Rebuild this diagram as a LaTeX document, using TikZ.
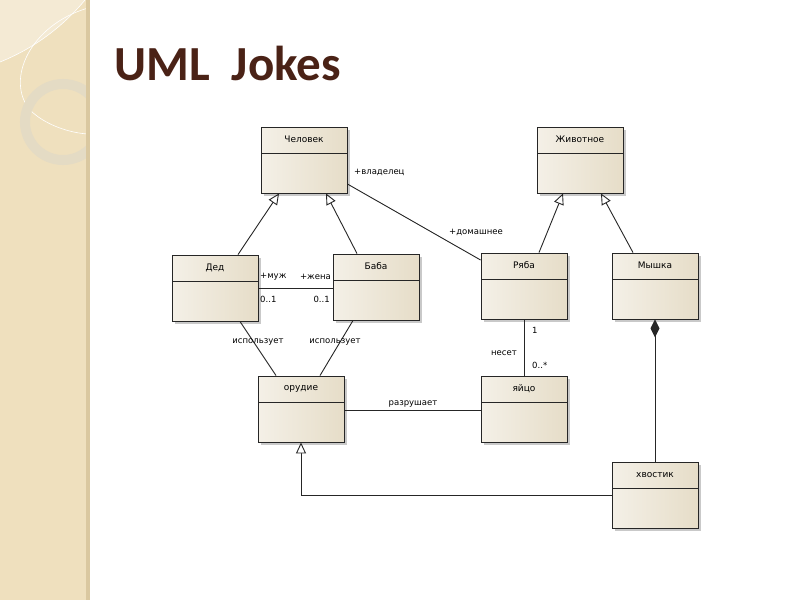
\documentclass[tikz,border=0pt]{standalone}
\usepackage{fontspec}
\setmainfont{DejaVu Sans}
\newfontfamily\titlefont{Carlito}
\usetikzlibrary{arrows.meta,shadows}
\definecolor{strip}{RGB}{239,224,190}
\definecolor{stripedge}{RGB}{218,200,160}
\definecolor{ringcol}{RGB}{228,219,196}
\definecolor{leafcol}{RGB}{244,234,212}
\definecolor{titlecol}{RGB}{74,34,22}
\definecolor{boxl}{RGB}{244,240,231}
\definecolor{boxr}{RGB}{230,221,200}
\begin{document}
\begin{tikzpicture}[x=1pt,y=-1pt,
  umlclass/.style={draw=black!85, line width=0.9pt, minimum width=86pt, minimum height=66pt,
    inner sep=0pt, left color=boxl, right color=boxr,
    drop shadow={shadow xshift=2.5pt, shadow yshift=-2.5pt, opacity=0.35, fill=black!60},
    path picture={\draw[line width=0.9pt, black!85] ([yshift=-26pt]path picture bounding box.north west) -- ([yshift=-26pt]path picture bounding box.north east);},
    label={[anchor=center, yshift=-13pt, font=\fontsize{9}{11}\selectfont]north:#1}},
  conn/.style={line width=0.9pt, black!85},
  gen/.style={conn, -{Triangle[open, length=11pt, width=10pt, fill=white]}},
  comp/.style={conn, {Diamond[length=18pt, width=9pt]}-},
  lbl/.style={font=\fontsize{8.5}{10}\selectfont, inner sep=0pt}
]
\useasboundingbox (0,0) rectangle (800,600);
% background and left strip
\fill[white] (0,0) rectangle (800,600);
\begin{scope}
\clip (0,0) rectangle (87,600);
\fill[strip] (0,0) rectangle (87,600);
\fill[leafcol] (0,62) .. controls (30,50) and (60,30) .. (85,0) -- (0,0) -- cycle;
\draw[white, line width=0.6pt] (0,62) .. controls (30,50) and (60,30) .. (85,0);
\draw[white, line width=0.6pt] (88,8) .. controls (30,25) and (5,80) .. (30,110) .. controls (45,125) and (70,133) .. (88,134);
\draw[ringcol, line width=10pt] (63,122) circle[radius=38];
\end{scope}
\fill[stripedge] (86,0) rectangle (90,600);
% title
\node[anchor=base west, inner sep=0pt, text=titlecol, font=\titlefont\bfseries\fontsize{49}{53}\selectfont] (title) at (114,80) {UML\ \ Jokes};
% classes
\node[umlclass=Человек] (chel) at (304,160) {};
\node[umlclass=Животное] (zhiv) at (580,160) {};
\node[umlclass=Дед] (ded) at (215,288) {};
\node[umlclass=Баба] (baba) at (376,287) {};
\node[umlclass=Ряба] (ryaba) at (524,286) {};
\node[umlclass=Мышка] (myshka) at (655,286) {};
\node[umlclass=орудие] (orudie) at (301,409) {};
\node[umlclass=яйцо] (yaitso) at (524,409) {};
\node[umlclass=хвостик] (hvostik) at (655,495.5) {};
% generalizations
\draw[gen] ([xshift=23pt]ded.north) -- ([xshift=-25pt]chel.south);
\draw[gen] ([xshift=-19pt]baba.north) -- ([xshift=22pt]chel.south);
\draw[gen] ([xshift=15pt]ryaba.north) -- ([xshift=-17pt]zhiv.south);
\draw[gen] ([xshift=-22pt]myshka.north) -- ([xshift=21pt]zhiv.south);
\draw[gen] (hvostik.west) -| (orudie.south);
% associations
\draw[conn] ([yshift=-24pt]chel.east) -- ([yshift=26pt]ryaba.west);
\draw[conn] (ded.east) -- (ded.east -| baba.west);
\draw[conn] ([xshift=25pt]ded.south) -- ([xshift=-25pt]orudie.north);
\draw[conn] ([xshift=-23pt]baba.south) -- ([xshift=19pt]orudie.north);
\draw[conn] (ryaba.south) -- (yaitso.north);
\draw[conn] ([yshift=-1pt]orudie.east) -- ([yshift=-1pt]yaitso.west);
\draw[comp] (myshka.south) -- (hvostik.north);
% labels
\node[lbl, anchor=west] (l1) at (354,172) {+владелец};
\node[lbl, anchor=east] (l2) at (503,232) {+домашнее};
\node[lbl, anchor=west] (l3) at (260,277) {+муж};
\node[lbl, anchor=east] (l4) at (331,277) {+жена};
\node[lbl, anchor=west] (l5) at (260,299) {0..1};
\node[lbl, anchor=east] (l6) at (330,299) {0..1};
\node[lbl] (l7) at (258,342) {использует};
\node[lbl] (l8) at (335,342) {использует};
\node[lbl, anchor=west] (l9) at (532,330) {1};
\node[lbl, anchor=east] (l10) at (517,353) {несет};
\node[lbl, anchor=west] (l11) at (532,365) {0..*};
\node[lbl] (l12) at (413,404) {разрушает};
\end{tikzpicture}
\end{document}
